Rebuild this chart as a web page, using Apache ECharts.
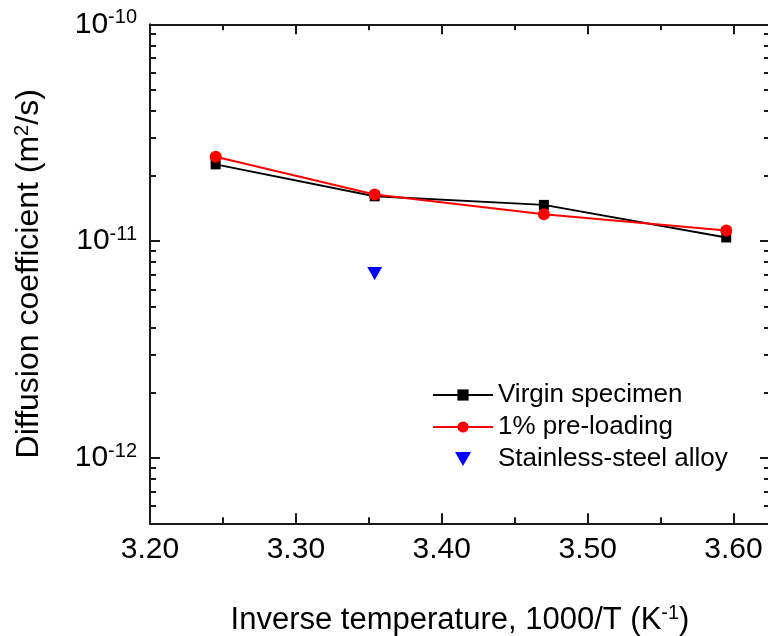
<!DOCTYPE html>
<html><head><meta charset="utf-8">
<script src="https://cdn.jsdelivr.net/npm/echarts@6/dist/echarts.min.js"></script>
<style>html,body{margin:0;padding:0;background:#fff}#c{width:768px;height:636px}</style>
</head><body><div id="c"></div>
<script>
// ---- data ----
const xValues = [3.245, 3.354, 3.470, 3.595];
const virgin = [2.26e-11, 1.61e-11, 1.47e-11, 1.04e-11];
const preload = [2.45e-11, 1.64e-11, 1.33e-11, 1.12e-11];
const steelX = [3.354];
const steel = [7.1e-12];
const seriesNames = ['Virgin specimen', '1% pre-loading', 'Stainless-steel alloy'];
const xMajorTicks = [3.20, 3.30, 3.40, 3.50, 3.60];
const xMinorTicks = [3.25, 3.35, 3.45, 3.55];
const yMajorTicks = [1e-12, 1e-11, 1e-10];
const yMinorTicks = [5e-13, 6e-13, 7e-13, 8e-13, 9e-13,
  2e-12, 3e-12, 4e-12, 5e-12, 6e-12, 7e-12, 8e-12, 9e-12,
  2e-11, 3e-11, 4e-11, 5e-11, 6e-11, 7e-11, 8e-11, 9e-11];
const xMin = 3.20, xMax = 3.625, yMin = 5e-13, yMax = 1e-10;

const FONT = "'Liberation Sans', Arial, sans-serif";
const AX = '#1a1a1a';

function xAxisDef(pos, ticks, len, main) {
  return {
    type: 'value', position: pos, min: xMin, max: xMax,
    axisLine: { show: main, lineStyle: { color: AX, width: 2 } },
    axisTick: { show: true, inside: true, length: len, customValues: ticks, lineStyle: { color: AX, width: 2 } },
    axisLabel: { show: main && pos === 'bottom', customValues: ticks, margin: 11, fontSize: 30, color: '#000', fontFamily: FONT,
      formatter: v => v.toFixed(2) },
    splitLine: { show: false },
    name: (main && pos === 'bottom') ? 'Inverse temperature, 1000/T (K{sup|-1})' : '',
    nameLocation: 'middle', nameGap: 80,
    nameTextStyle: { fontSize: 31, color: '#000', fontFamily: FONT,
      rich: { sup: { fontSize: 20, fontFamily: FONT, color: '#000', padding: [0, 0, 14, 0] } } }
  };
}
function yAxisDef(pos, ticks, len, main) {
  return {
    type: 'log', logBase: 10, position: pos, min: yMin, max: yMax,
    axisLine: { show: main, lineStyle: { color: AX, width: 2 } },
    axisTick: { show: true, inside: true, length: len, customValues: ticks, lineStyle: { color: AX, width: 2 } },
    axisLabel: { show: main && pos === 'left', customValues: ticks, margin: 13, fontFamily: FONT,
      formatter: v => '{b|10}{s|' + Math.round(Math.log10(v)) + '}',
      rich: { b: { fontSize: 30, color: '#000', fontFamily: FONT },
              s: { fontSize: 20, color: '#000', fontFamily: FONT, padding: [0, 0, 14, 0] } } },
    splitLine: { show: false },
    name: (main && pos === 'left') ? 'Diffusion coefficient (m{sup|2}/s)' : '',
    nameLocation: 'middle', nameGap: 104, nameRotate: 90,
    nameTextStyle: { fontSize: 32, color: '#000', fontFamily: FONT,
      rich: { sup: { fontSize: 20, fontFamily: FONT, color: '#000', padding: [0, 0, 14, 0] } } }
  };
}

const chart = echarts.init(document.getElementById('c'), null, { renderer: 'canvas' });
chart.setOption({
  animation: false,
  backgroundColor: '#fff',
  grid: { left: 150, top: 24.3, width: 620, height: 499, containLabel: false, outerBoundsMode: 'none' },
  xAxis: [
    xAxisDef('bottom', xMajorTicks, 10, true),
    xAxisDef('bottom', xMinorTicks, 6, false),
    xAxisDef('top', xMajorTicks, 10, true),
    xAxisDef('top', xMinorTicks, 6, false)
  ],
  yAxis: [
    yAxisDef('left', yMajorTicks, 10, true),
    yAxisDef('left', yMinorTicks, 6, false),
    yAxisDef('right', yMajorTicks, 10, true),
    yAxisDef('right', yMinorTicks, 6, false)
  ],
  legend: {
    orient: 'vertical', left: 432, top: 382, padding: 0,
    itemWidth: 60, itemHeight: 14, itemGap: 6,
    lineStyle: { width: 2 },
    textStyle: { fontSize: 26, lineHeight: 26, color: '#000', fontFamily: FONT },
    data: seriesNames
  },
  series: [
    { name: seriesNames[0], type: 'line', xAxisIndex: 0, yAxisIndex: 0,
      data: xValues.map((x, i) => [x, virgin[i]]),
      symbol: 'rect', symbolSize: 10,
      lineStyle: { color: '#000', width: 2 }, itemStyle: { color: '#000' } },
    { name: seriesNames[1], type: 'line', xAxisIndex: 0, yAxisIndex: 0,
      data: xValues.map((x, i) => [x, preload[i]]),
      symbol: 'circle', symbolSize: 12,
      lineStyle: { color: '#ff0000', width: 2 }, itemStyle: { color: '#ff0000' } },
    { name: seriesNames[2], type: 'scatter', xAxisIndex: 0, yAxisIndex: 0,
      data: steelX.map((x, i) => [x, steel[i]]),
      symbol: 'path://M0,0 L16,0 L8,14 Z', symbolSize: [15, 13],
      itemStyle: { color: '#0000ff', opacity: 1 } }
  ]
});
</script></body></html>
